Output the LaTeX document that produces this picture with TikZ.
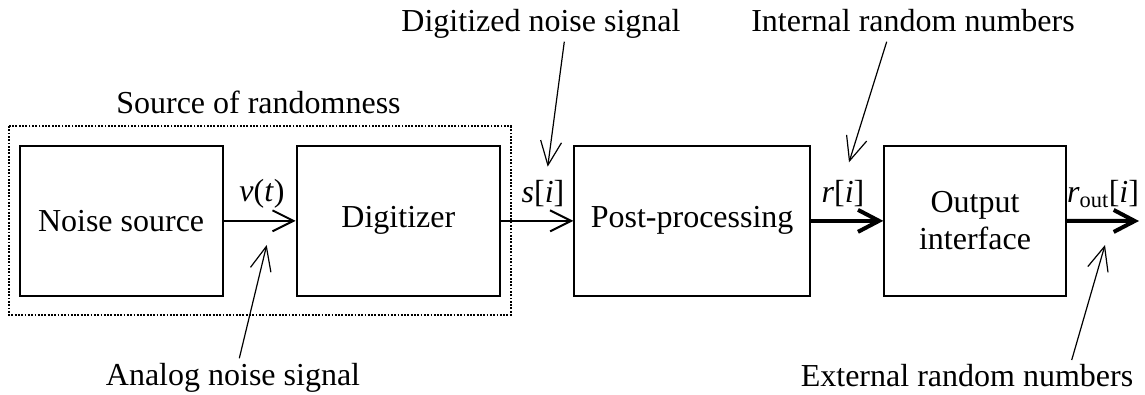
\documentclass[tikz,border=0pt]{standalone}
\usepackage{fontspec}
\setmainfont{Liberation Serif}
\usetikzlibrary{arrows.meta}

\tikzset{
  block/.style={draw, line width=2pt, inner sep=0pt, align=center,
                font=\fontsize{32}{37}\selectfont},
  lbl/.style={inner sep=0pt, font=\fontsize{32}{37}\selectfont},
  sig/.style={line width=2pt, -{Straight Barb[length=21pt,width=21pt,line width=2pt]}},
  bigsig/.style={line width=4pt, -{Straight Barb[length=21pt,width=22pt,line width=4pt]}},
  pointer/.style={line width=1.2pt, -{Straight Barb[length=24pt,width=21pt,line width=1.2pt]}},
  group/.style={draw, line width=2pt, dash pattern=on 1.8pt off 1.5pt}
}

\begin{document}
\begin{tikzpicture}[x=1pt,y=-1pt]
  \useasboundingbox (0,0) rectangle (1145,394);

  % grouping frame around the entropy source
  \draw[group] (9,126) rectangle (510.5,315);
  \node[lbl, anchor=base] (srclbl) at (258.5,113.3) {Source of randomness};

  % processing blocks
  \node[block, minimum width=203.2pt, minimum height=149.7pt] (noise) at (121.1,220.85) {Noise source};
  \node[block, minimum width=203.3pt, minimum height=149.7pt] (dig) at (398.35,220.85) {Digitizer};
  \node[block, minimum width=235.7pt, minimum height=149.7pt] (post) at (692.15,220.85) {Post-processing};
  \node[block, minimum width=181.4pt, minimum height=149.7pt] (out) at (975,220.85) {Output\\interface};

  % signal flow
  \coordinate (outend) at (1139,221);
  \draw[sig] (noise.east) -- (dig.west);
  \draw[sig] (dig.east) -- (post.west);
  \draw[bigsig] (post.east) -- (out.west);
  \draw[bigsig] (out.east) -- (outend);

  % signal names
  \node[lbl] (vt) at (262,194) {\textit{v}(\textit{t})};
  \node[lbl] (si) at (543,194) {\textit{s}[\textit{i}]};
  \node[lbl] (ri) at (843,194) {\textit{r}[\textit{i}]};
  \node[lbl] (rout) at (1103,194) {\textit{r}\textsubscript{out}[\textit{i}]};

  % annotations
  \node[lbl, anchor=base] (dnote) at (541,31.7) {Digitized noise signal};
  \node[lbl, anchor=base] (inote) at (913,31.7) {Internal random numbers};
  \node[lbl, anchor=base] (anote) at (233,385) {Analog noise signal};
  \node[lbl, anchor=base] (enote) at (967,386.5) {External random numbers};

  \coordinate (dtail) at (564.3,41.7);
  \coordinate (dtip) at (547.7,166.7);
  \coordinate (itail) at (886.7,41.7);
  \coordinate (itip) at (849,162.3);
  \coordinate (atail) at (239.3,358.3);
  \coordinate (atip) at (266.7,245);
  \coordinate (etail) at (1071.7,360);
  \coordinate (etip) at (1105,245);

  \draw[pointer] (dtail) -- (dtip);
  \draw[pointer] (itail) -- (itip);
  \draw[pointer] (atail) -- (atip);
  \draw[pointer] (etail) -- (etip);
\end{tikzpicture}
\end{document}
